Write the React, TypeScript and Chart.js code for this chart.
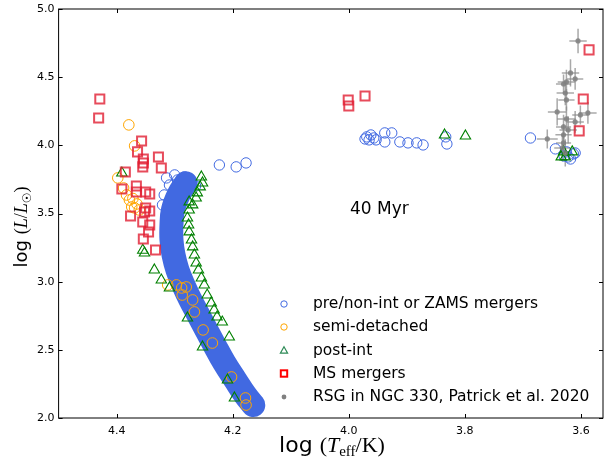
import React, { useEffect, useRef } from "react";
import { Chart, registerables } from "chart.js";

Chart.register(...registerables);

// ---------- tick values ----------
const X_TICKS = [4.4, 4.2, 4.0, 3.8, 3.6];
const Y_TICKS = [2.0, 2.5, 3.0, 3.5, 4.0, 4.5, 5.0];

// ---------- dense ridge of pre/non-int models (centre line of the band) ----------
const bandLogT = [4.281, 4.293, 4.303, 4.3055, 4.3055, 4.302, 4.2952, 4.2849, 4.2729, 4.2608, 4.2471, 4.2316, 4.2144, 4.1955, 4.1784, 4.1646];
const bandLogL = [3.722, 3.640, 3.526, 3.416, 3.306, 3.196, 3.086, 2.976, 2.866, 2.770, 2.660, 2.536, 2.404, 2.279, 2.169, 2.095];

// ---------- pre/non-int or ZAMS mergers (open circles) ----------
const preLogT = [4.223, 4.194, 4.177, 4.314, 4.300, 4.283, 4.309, 4.295, 4.275, 4.264, 4.318, 4.321, 3.969, 3.962, 3.957, 3.953, 3.965, 3.972, 3.938, 3.938, 3.926, 3.912, 3.898, 3.883, 3.872, 3.833, 3.831, 3.687, 3.644, 3.629, 3.622, 3.613, 3.618, 3.610, 3.625];
const preLogL = [3.856, 3.842, 3.871, 3.761, 3.783, 3.768, 3.709, 3.746, 3.739, 3.702, 3.636, 3.563, 4.062, 4.076, 4.054, 4.040, 4.040, 4.047, 4.091, 4.025, 4.091, 4.025, 4.018, 4.018, 4.003, 4.062, 4.010, 4.054, 3.974, 3.922, 3.915, 3.937, 3.900, 3.944, 3.952];

// ---------- semi-detached ----------
const sdLogT = [4.379, 4.369, 4.398, 4.388, 4.383, 4.378, 4.374, 4.369, 4.361, 4.372, 4.365, 4.312, 4.297, 4.288, 4.280, 4.287, 4.269, 4.266, 4.251, 4.235, 4.202, 4.178, 4.177];
const sdLogL = [4.150, 3.996, 3.761, 3.687, 3.636, 3.599, 3.548, 3.541, 3.526, 3.610, 3.570, 2.976, 2.976, 2.954, 2.961, 2.902, 2.866, 2.778, 2.646, 2.550, 2.301, 2.147, 2.095];

// ---------- post-int ----------
const postLogT = [4.391, 4.355, 4.352, 4.335, 4.323, 4.309, 4.278, 4.252, 4.209, 4.197, 4.254, 4.252, 4.256, 4.261, 4.263, 4.275, 4.269, 4.275, 4.278, 4.276, 4.275, 4.271, 4.269, 4.266, 4.263, 4.259, 4.254, 4.249, 4.244, 4.237, 4.232, 4.227, 4.218, 4.206, 3.835, 3.799, 3.630, 3.627, 3.615, 3.634];
const postLogL = [3.797, 3.230, 3.210, 3.086, 3.012, 2.954, 2.734, 2.521, 2.279, 2.147, 3.768, 3.724, 3.695, 3.651, 3.614, 3.585, 3.563, 3.526, 3.467, 3.416, 3.365, 3.306, 3.255, 3.196, 3.137, 3.086, 3.027, 2.976, 2.902, 2.844, 2.792, 2.741, 2.704, 2.594, 4.076, 4.069, 3.952, 3.915, 3.952, 3.915];

// ---------- MS mergers ----------
const msLogT = [4.429, 4.431, 4.357, 4.364, 4.354, 4.354, 4.355, 4.328, 4.323, 4.385, 4.391, 4.366, 4.366, 4.350, 4.343, 4.350, 4.343, 4.376, 4.352, 4.355, 4.343, 4.345, 4.354, 4.333, 4.001, 4.000, 3.972, 3.586, 3.596, 3.603];
const msLogL = [4.340, 4.201, 4.032, 3.952, 3.900, 3.871, 3.842, 3.915, 3.834, 3.805, 3.680, 3.702, 3.658, 3.658, 3.643, 3.541, 3.519, 3.482, 3.511, 3.438, 3.416, 3.365, 3.313, 3.233, 4.333, 4.289, 4.362, 4.700, 4.340, 4.106];

// ---------- RSG in NGC 330 (Patrick et al. 2020) ----------
const rsgLogT = [3.605, 3.618, 3.610, 3.625, 3.630, 3.627, 3.625, 3.641, 3.588, 3.601, 3.625, 3.610, 3.630, 3.622, 3.658, 3.630, 3.630, 3.632, 3.627];
const rsgLogL = [4.766, 4.531, 4.487, 4.465, 4.450, 4.384, 4.333, 4.245, 4.238, 4.223, 4.194, 4.172, 4.135, 4.113, 4.047, 4.077, 4.018, 3.981, 3.944];
const rsgErrT = [0.015, 0.015, 0.014, 0.015, 0.013, 0.015, 0.014, 0.016, 0.015, 0.014, 0.016, 0.015, 0.013, 0.015, 0.018, 0.014, 0.013, 0.014, 0.012];
const rsgErrL = [0.09, 0.10, 0.08, 0.09, 0.07, 0.09, 0.08, 0.10, 0.08, 0.07, 0.09, 0.08, 0.09, 0.10, 0.07, 0.08, 0.09, 0.10, 0.10];

const legendLabels = [
  "pre/non-int or ZAMS mergers",
  "semi-detached",
  "post-int",
  "MS mergers",
  "RSG in NGC 330, Patrick et al. 2020",
];
const ageLabel = "40 Myr";

const pts = (xs: number[], ys: number[]) => xs.map((x, i) => ({ x, y: ys[i] }));

const SANS = "'DejaVu Sans', sans-serif";
const SERIF = "'Liberation Serif', 'DejaVu Serif', serif";
const BLUE = "#4169e1";
const ORANGE = "#ffa500";
const GREEN = "#008000";
const RED = "rgba(225,30,50,0.8)";
const GREY = "rgba(128,128,128,0.85)";

const errorBarPlugin = {
  id: "errorBars",
  beforeDatasetsDraw(chart: any) {
    const { ctx, scales } = chart;
    const xs = scales.x;
    const ys = scales.y;
    ctx.save();
    ctx.strokeStyle = "rgba(140,140,140,0.75)";
    ctx.lineWidth = 1.5;
    rsgLogT.forEach((t, i) => {
      const l = rsgLogL[i];
      const px = xs.getPixelForValue(t);
      const py = ys.getPixelForValue(l);
      const x1 = xs.getPixelForValue(t - rsgErrT[i]);
      const x2 = xs.getPixelForValue(t + rsgErrT[i]);
      const y1 = ys.getPixelForValue(l - rsgErrL[i]);
      const y2 = ys.getPixelForValue(l + rsgErrL[i]);
      ctx.beginPath();
      ctx.moveTo(x1, py);
      ctx.lineTo(x2, py);
      ctx.moveTo(px, y1);
      ctx.lineTo(px, y2);
      ctx.stroke();
    });
    ctx.restore();
  },
};

const framePlugin = {
  id: "frame",
  afterDraw(chart: any) {
    const { ctx, chartArea, scales } = chart;
    const { left, right, top, bottom } = chartArea;
    ctx.save();
    ctx.strokeStyle = "#000";
    ctx.lineWidth = 1;
    ctx.strokeRect(left, top, right - left, bottom - top);
    const len = 4;
    ctx.beginPath();
    X_TICKS.forEach((v) => {
      const x = Math.round(scales.x.getPixelForValue(v)) + 0.5;
      ctx.moveTo(x, bottom);
      ctx.lineTo(x, bottom - len);
      ctx.moveTo(x, top);
      ctx.lineTo(x, top + len);
    });
    Y_TICKS.forEach((v) => {
      const y = Math.round(scales.y.getPixelForValue(v)) + 0.5;
      ctx.moveTo(left, y);
      ctx.lineTo(left + len, y);
      ctx.moveTo(right, y);
      ctx.lineTo(right - len, y);
    });
    ctx.stroke();
    ctx.restore();
  },
};

type Seg = { text: string; font: string; dy?: number; w?: number };

const drawSegs = (ctx: CanvasRenderingContext2D, segs: Seg[], cx: number, cy: number) => {
  let total = 0;
  segs.forEach((s) => {
    ctx.font = s.font;
    s.w = ctx.measureText(s.text).width;
    total += s.w;
  });
  let x = cx - total / 2;
  segs.forEach((s) => {
    ctx.font = s.font;
    ctx.fillText(s.text, x, cy + (s.dy || 0));
    x += s.w || 0;
  });
};

const textPlugin = {
  id: "texts",
  afterDraw(chart: any) {
    const ctx: CanvasRenderingContext2D = chart.ctx;
    ctx.save();
    ctx.fillStyle = "#000";
    ctx.textAlign = "left";
    ctx.textBaseline = "alphabetic";

    // x title
    const xt: Seg[] = [
      { text: "log ", font: `22px ${SANS}` },
      { text: "(", font: `22px ${SERIF}` },
      { text: "T", font: `italic 22px ${SERIF}` },
      { text: "eff", font: `15px ${SERIF}`, dy: 4 },
      { text: "/K)", font: `22px ${SERIF}` },
    ];
    drawSegs(ctx, xt, 332, 452);

    // y title
    ctx.save();
    ctx.translate(27, 227);
    ctx.rotate(-Math.PI / 2);
    const yt: Seg[] = [
      { text: "log ", font: `18px ${SANS}` },
      { text: "(", font: `18px ${SERIF}` },
      { text: "L", font: `italic 18px ${SERIF}` },
      { text: "/", font: `18px ${SERIF}` },
      { text: "L", font: `italic 18px ${SERIF}` },
      { text: "\u2609", font: `12px ${SANS}`, dy: 3.5 },
      { text: ")", font: `18px ${SERIF}` },
    ];
    drawSegs(ctx, yt, 0, 0);
    ctx.restore();

    // age annotation
    ctx.font = `17px ${SANS}`;
    ctx.fillText(ageLabel, 350, 214);

    // legend
    const mx = 284;
    const tx = 313;
    const rowsY = [304, 327, 350.5, 373.5, 397];
    ctx.font = `15.5px ${SANS}`;
    ctx.textBaseline = "middle";
    legendLabels.forEach((lab, i) => {
      const y = rowsY[i];
      ctx.fillStyle = "#000";
      ctx.fillText(lab, tx, y);
      ctx.beginPath();
      if (i === 0 || i === 1) {
        ctx.strokeStyle = i === 0 ? BLUE : ORANGE;
        ctx.lineWidth = 1;
        ctx.arc(mx, y, 3.2, 0, Math.PI * 2);
        ctx.stroke();
      } else if (i === 2) {
        ctx.strokeStyle = "#2e8b57";
        ctx.lineWidth = 1.2;
        ctx.moveTo(mx, y - 3.8);
        ctx.lineTo(mx + 3.6, y + 2.6);
        ctx.lineTo(mx - 3.6, y + 2.6);
        ctx.closePath();
        ctx.stroke();
      } else if (i === 3) {
        ctx.strokeStyle = "#ff0000";
        ctx.lineWidth = 2;
        ctx.strokeRect(mx - 3.2, y - 3.2, 6.4, 6.4);
      } else {
        ctx.fillStyle = "#808080";
        ctx.arc(mx, y, 2.4, 0, Math.PI * 2);
        ctx.fill();
      }
    });
    ctx.restore();
  },
};

export default function App() {
  const canvasRef = useRef<HTMLCanvasElement | null>(null);

  useEffect(() => {
    document.body.style.margin = "0";
    const canvas = canvasRef.current;
    if (!canvas) return;
    const chart = new Chart(canvas, {
      type: "scatter",
      data: {
        datasets: [
          {
            label: legendLabels[4],
            data: pts(rsgLogT, rsgLogL),
            pointStyle: "circle",
            pointRadius: 2.6,
            backgroundColor: GREY,
            borderColor: GREY,
            borderWidth: 0,
            order: 1,
          },
          {
            label: legendLabels[3],
            data: pts(msLogT, msLogL),
            pointStyle: "rect",
            pointRadius: 6.4,
            backgroundColor: "transparent",
            borderColor: RED,
            borderWidth: 2,
            order: 2,
          },
          {
            label: legendLabels[2],
            data: pts(postLogT, postLogL),
            pointStyle: "triangle",
            pointRadius: 6,
            backgroundColor: "transparent",
            borderColor: GREEN,
            borderWidth: 1.1,
            order: 3,
          },
          {
            label: legendLabels[1],
            data: pts(sdLogT, sdLogL),
            pointStyle: "circle",
            pointRadius: 5.3,
            backgroundColor: "transparent",
            borderColor: ORANGE,
            borderWidth: 1,
            order: 4,
          },
          {
            label: legendLabels[0],
            data: pts(preLogT, preLogL),
            pointStyle: "circle",
            pointRadius: 5.2,
            backgroundColor: "transparent",
            borderColor: BLUE,
            borderWidth: 1,
            order: 5,
          },
          {
            label: "band",
            data: pts(bandLogT, bandLogL),
            showLine: true,
            pointRadius: 0,
            borderColor: BLUE,
            borderWidth: 24,
            tension: 0.4,
            borderCapStyle: "round",
            borderJoinStyle: "round",
            fill: false,
            order: 10,
          } as any,
        ],
      },
      options: {
        animation: false,
        responsive: false,
        devicePixelRatio: 1,
        layout: { autoPadding: false, padding: { left: 0, right: 2, top: 9, bottom: 0 } },
        plugins: { legend: { display: false }, tooltip: { enabled: false } },
        scales: {
          x: {
            type: "linear",
            reverse: true,
            min: 3.562,
            max: 4.5,
            afterBuildTicks: (s: any) => {
              s.ticks = X_TICKS.map((v) => ({ value: v }));
            },
            afterFit: (s: any) => {
              s.height = 41;
              s.paddingLeft = 0;
              s.paddingRight = 0;
            },
            grid: { display: false, drawTicks: false },
            border: { display: false },
            ticks: {
              autoSkip: false,
              maxRotation: 0,
              padding: 7,
              color: "#000",
              font: { family: "DejaVu Sans", size: 11 },
              callback: (v: any) => Number(v).toFixed(1),
            },
          },
          y: {
            type: "linear",
            min: 2,
            max: 5,
            afterBuildTicks: (s: any) => {
              s.ticks = Y_TICKS.map((v) => ({ value: v }));
            },
            afterFit: (s: any) => {
              s.width = 58.6;
              s.paddingTop = 0;
              s.paddingBottom = 0;
            },
            grid: { display: false, drawTicks: false },
            border: { display: false },
            ticks: {
              autoSkip: false,
              padding: 4,
              color: "#000",
              font: { family: "DejaVu Sans", size: 11 },
              callback: (v: any) => Number(v).toFixed(1),
            },
          },
        },
      },
      plugins: [errorBarPlugin, framePlugin, textPlugin],
    } as any);
    return () => chart.destroy();
  }, []);

  return (
    <div style={{ position: "absolute", left: 0, top: 0, width: 605, height: 459, background: "#fff" }}>
      <canvas ref={canvasRef} width={605} height={459} style={{ display: "block" }} />
    </div>
  );
}
